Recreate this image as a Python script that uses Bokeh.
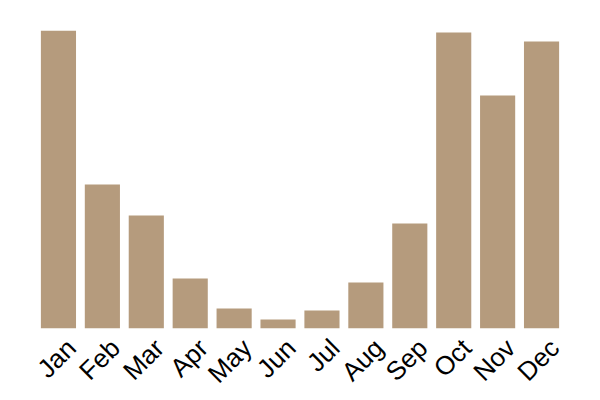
import math
from bokeh.plotting import figure
from bokeh.models import (ColumnDataSource, Range1d, LinearAxis,
                          FixedTicker, LinearScale)
from bokeh.embed import file_html
from bokeh.resources import INLINE

months = ["Jan", "Feb", "Mar", "Apr", "May", "Jun",
          "Jul", "Aug", "Sep", "Oct", "Nov", "Dec"]
values = [298, 144, 113, 50, 20, 9, 18, 46, 105, 296, 233, 287]

idx = list(range(len(months)))
source = ColumnDataSource(data=dict(i=idx, month=months, value=values))

n = len(months)
p = figure(x_range=Range1d(-0.5, n - 0.5),
           y_range=Range1d(0, max(values)),
           frame_width=527, frame_height=298, output_backend="svg",
           toolbar_location=None, x_axis_location=None, y_axis_location=None,
           min_border_left=36, min_border_right=20, min_border_top=30,
           min_border_bottom=10)

p.vbar(x="i", top="value", width=0.8, source=source,
       fill_color="#b59b7d", line_color=None)

# label axis: shifted so the rotated labels sit centred under the bars
shift = 0.296
p.extra_x_ranges = {"lab": Range1d(-0.5 - shift, n - 0.5 - shift)}
p.extra_x_scales = {"lab": LinearScale()}
ax = LinearAxis(x_range_name="lab", ticker=FixedTicker(ticks=idx),
                major_label_overrides={i: m for i, m in zip(idx, months)})
ax.axis_line_color = None
ax.major_tick_line_color = None
ax.minor_tick_line_color = None
ax.major_label_orientation = math.pi / 4
ax.major_label_text_font = "Liberation Sans"
ax.major_label_text_font_size = "26px"
ax.major_label_text_color = "#000000"
ax.major_label_standoff = 9
p.add_layout(ax, "below")

p.xgrid.visible = False
p.ygrid.visible = False
p.outline_line_color = None

open("out.html", "w").write(file_html(p, INLINE))
